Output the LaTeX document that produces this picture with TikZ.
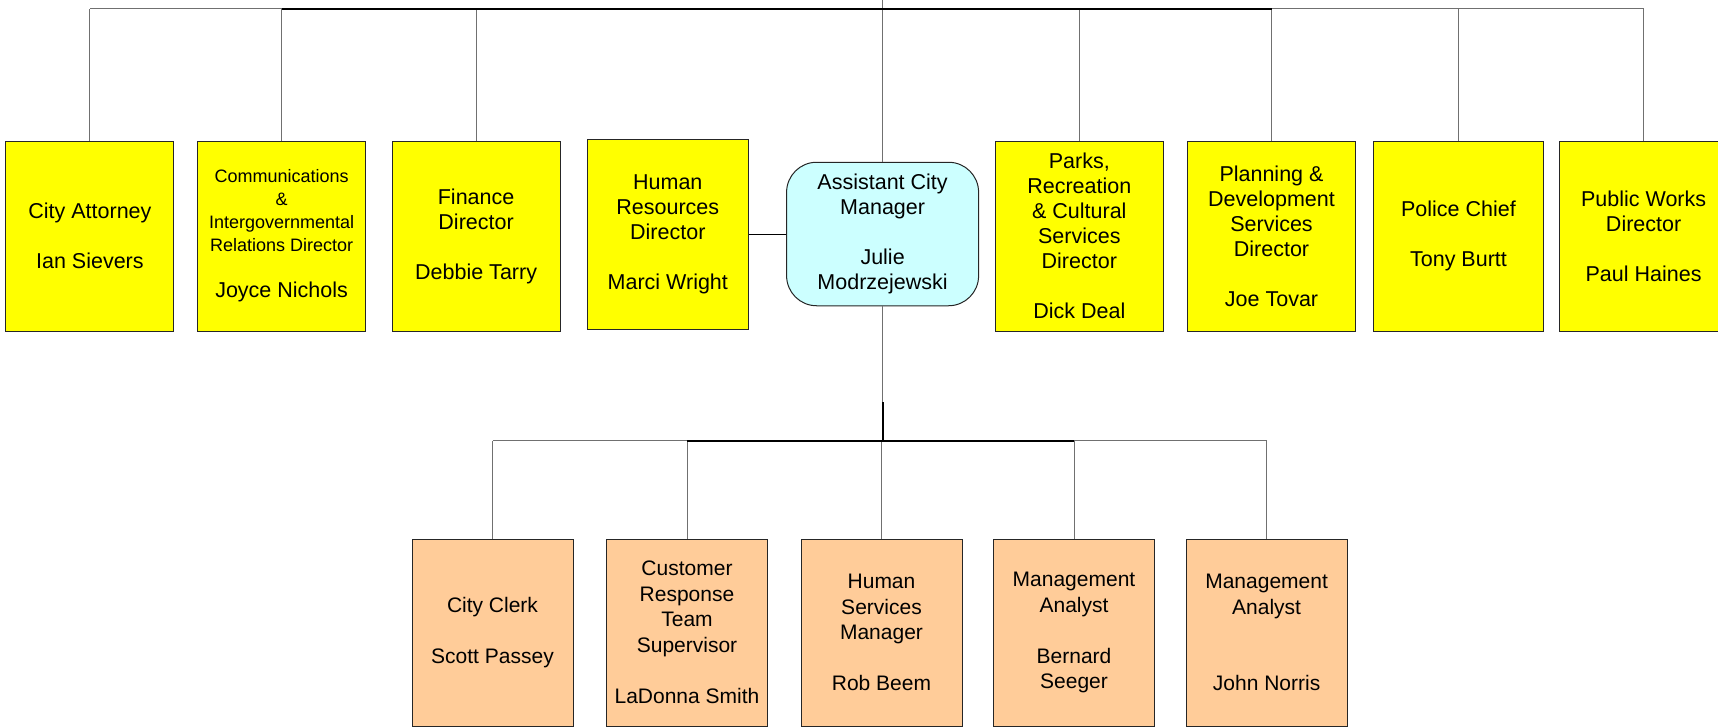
\documentclass[tikz,border=0pt]{standalone}
\usepackage{fontspec}
\setmainfont{Liberation Sans}
\definecolor{postyellow}{RGB}{255,255,0}
\definecolor{acmcyan}{HTML}{CCFFFF}
\definecolor{staffpeach}{HTML}{FFCC99}
\definecolor{stemgray}{HTML}{707070}
\newcommand{\toptext}{\fontsize{21.5}{25}\selectfont}
\newcommand{\commtext}{\fontsize{18}{23}\selectfont}
\newcommand{\stafftext}{\fontsize{21}{25.5}\selectfont}
\tikzset{
  post/.style={draw=black!85, line width=1pt, fill=postyellow, minimum width=168pt,
    minimum height=190pt, inner sep=0pt, align=center, font=\toptext},
  acmbox/.style={post, fill=acmcyan, rounded corners=30pt, minimum width=192pt,
    minimum height=143.5pt},
  staff/.style={post, fill=staffpeach, minimum width=161pt, minimum height=187pt,
    font=\stafftext},
  stem/.style={draw=stemgray, line width=1pt},
  trunk/.style={draw=black, line width=2pt},
}
\begin{document}
\begin{tikzpicture}[x=1pt, y=-1pt]
\useasboundingbox (0,0) rectangle (1718,726);
\clip (0,0) rectangle (1718,726);

\node[post] (atty) at (89.9,236.1) {City Attorney\\[25pt]Ian Sievers};
\node[post, font=\commtext] (comm) at (281.6,236.1) {Communications\\\&\\Intergovernmental\\Relations Director\\[23pt]\toptext Joyce Nichols};
\node[post] (fin) at (476.1,236.1) {Finance\\Director\\[25pt]Debbie Tarry};
\node[post, minimum width=161pt] (hr) at (667.8,234) {Human\\Resources\\Director\\[25pt]Marci Wright};
\node[acmbox] (acm) at (882.6,234) {Assistant City\\Manager\\[25pt]Julie\\Modrzejewski};
\node[post] (parks) at (1079.3,236.1) {Parks,\\Recreation\\\& Cultural\\Services\\Director\\[25pt]Dick Deal};
\node[post] (plan) at (1271.5,236.1) {Planning \&\\Development\\Services\\Director\\[25pt]Joe Tovar};
\node[post, minimum width=170pt] (police) at (1458.5,236.1) {Police Chief\\[25pt]Tony Burtt};
\node[post] (pw) at (1643.6,236.1) {Public Works\\Director\\[25pt]Paul Haines};

\node[staff] (clerk) at (492.5,632.5) {City Clerk\\[25.5pt]Scott Passey};
\node[staff] (crt) at (687,632.5) {Customer\\Response\\Team\\Supervisor\\[25.5pt]LaDonna Smith};
\node[staff] (hsm) at (881.5,632.5) {Human\\Services\\Manager\\[25.5pt]Rob Beem};
\node[staff] (mgta) at (1074,632.5) {Management\\Analyst\\[25.5pt]Bernard\\Seeger};
\node[staff] (mgtb) at (1266.6,632.5) {Management\\Analyst\\[51pt]John Norris};

\coordinate (apex) at (882.6,0);
\coordinate (topbus) at (882.6,8.8);
\coordinate (lowjoin) at (882.6,402);
\coordinate (lowbus) at (882.6,440.5);

\draw[stem] (apex) -- (acm.north);
\foreach \n in {atty,comm,fin,parks,plan,police,pw}
  \draw[stem] (\n.north) -- (\n.north |- topbus);
\draw[stem] (atty.north |- topbus) -- (pw.north |- topbus);
\draw[trunk] (comm.north |- topbus) -- (plan.north |- topbus);
\draw[line width=1pt] (hr.east) -- (acm.west);

\draw[stem] (acm.south) -- (lowjoin);
\draw[trunk] (lowjoin) -- (lowbus);
\foreach \n in {clerk,crt,hsm,mgta,mgtb}
  \draw[stem] (\n.north) -- (\n.north |- lowbus);
\draw[stem] (clerk.north |- lowbus) -- (mgtb.north |- lowbus);
\draw[trunk] (crt.north |- lowbus) -- (mgta.north |- lowbus);

\end{tikzpicture}
\end{document}
